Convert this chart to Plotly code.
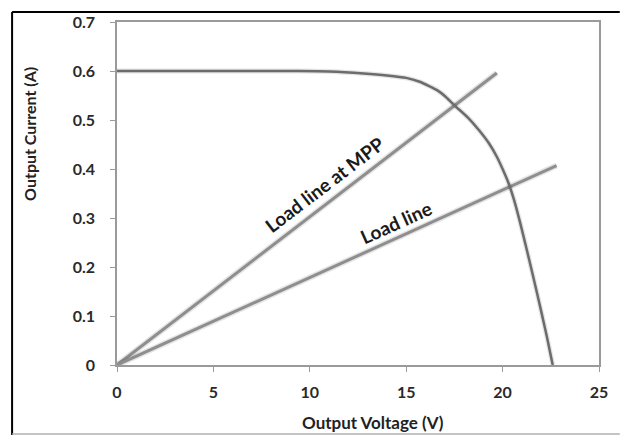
import math
import plotly.graph_objects as go

# I-V curve of the panel
iv_voltage = [0, 2.5, 5, 7.5, 9.4, 11.0, 12.8, 14.0, 15.0, 15.7, 16.2, 16.6, 17.0, 17.5, 18.2, 18.8, 19.3, 19.7, 20.0, 20.3, 20.6, 20.9, 21.2, 21.6, 22.0, 22.3, 22.6]
iv_current = [0.600, 0.600, 0.600, 0.600, 0.600, 0.599, 0.595, 0.591, 0.586, 0.578, 0.569, 0.561, 0.549, 0.530, 0.505, 0.478, 0.452, 0.425, 0.400, 0.372, 0.336, 0.292, 0.244, 0.178, 0.110, 0.057, 0.0]

# Load lines (straight lines through the origin)
mpp_voltage = [0, 19.7]
mpp_current = [0, 0.596]
load_voltage = [0, 22.8]
load_current = [0, 0.407]

x_ticks = [0, 5, 10, 15, 20, 25]
y_ticks = [0, 0.1, 0.2, 0.3, 0.4, 0.5, 0.6, 0.7]

W, H = 620, 435
ML, MR, MT, MB = 117, 16, 22, 70
pw, ph = W - ML - MR, H - MT - MB
XMAX, YMAX = 25, 0.7

def angle(vx, vy):
    return -math.degrees(math.atan2(vy / YMAX * ph, vx / XMAX * pw))

FONT = "Lato"
fig = go.Figure()
line_col = "#8e8e8e"
for vx, vy in [(mpp_voltage, mpp_current), (load_voltage, load_current)]:
    fig.add_trace(go.Scatter(x=vx, y=vy, mode="lines",
                             line=dict(color="rgba(0,0,0,0.10)", width=6),
                             hoverinfo="skip", showlegend=False))
    fig.add_trace(go.Scatter(x=vx, y=vy, mode="lines",
                             line=dict(color=line_col, width=3),
                             showlegend=False))
fig.add_trace(go.Scatter(x=iv_voltage, y=iv_current, mode="lines",
                         line=dict(color="rgba(0,0,0,0.10)", width=5, shape="spline", smoothing=0.6),
                         hoverinfo="skip", showlegend=False))
fig.add_trace(go.Scatter(x=iv_voltage, y=iv_current, mode="lines",
                         line=dict(color="#6c6c6c", width=2.5, shape="spline", smoothing=0.6),
                         showlegend=False))

axis_common = dict(showgrid=False, zeroline=False, showline=True, linecolor="#9a9a9a",
                   linewidth=1.5, mirror=True, ticks="outside", ticklen=5, tickcolor="#9a9a9a",
                   tickfont=dict(family=FONT, size=16, color="#2a2a2a", weight="bold"))
fig.update_xaxes(range=[0, XMAX], tickvals=x_ticks, ticktext=[str(v) for v in x_ticks],
                 ticklabelstandoff=7, **axis_common)
fig.update_yaxes(range=[0, YMAX], tickvals=y_ticks,
                 ticktext=["0" if v == 0 else f"{v:.1f}" for v in y_ticks],
                 ticklabelstandoff=12, **axis_common)

annots = [
    dict(text="<b>Load line at MPP</b>", x=10.75, y=0.368, textangle=angle(mpp_voltage[1], mpp_current[1]),
         font=dict(family=FONT, size=19, color="#1a1a1a")),
    dict(text="<b>Load line</b>", x=14.45, y=0.291, textangle=angle(load_voltage[1], load_current[1]),
         font=dict(family=FONT, size=19, color="#1a1a1a")),
]
for a in annots:
    fig.add_annotation(xref="x", yref="y", showarrow=False, xanchor="center", yanchor="middle", **a)

fig.add_annotation(text="<b>Output Voltage (V)</b>", xref="paper", yref="paper",
                   x=(376 - ML) / pw, y=(H - MB - 422) / ph, showarrow=False,
                   xanchor="center", yanchor="middle", font=dict(family=FONT, size=17, color="#222222"))
fig.add_annotation(text="<b>Output Current (A)</b>", xref="paper", yref="paper",
                   x=(28 - ML) / pw, y=(H - MB - 134) / ph, showarrow=False, textangle=-90,
                   xanchor="center", yanchor="middle", font=dict(family=FONT, size=16, color="#222222"))

# outer frame of the picture
def px(xp): return (xp - ML) / pw
def py(yp): return (H - MB - yp) / ph
fig.add_shape(type="line", xref="paper", yref="paper", x0=px(11), x1=px(W + 5), y0=py(12), y1=py(12),
              line=dict(color="#000000", width=2))
fig.add_shape(type="line", xref="paper", yref="paper", x0=px(11), x1=px(11), y0=py(12), y1=py(H + 5),
              line=dict(color="#000000", width=2))
fig.add_shape(type="line", xref="paper", yref="paper", x0=px(11), x1=px(W + 5), y0=py(434), y1=py(434),
              line=dict(color="#b0b0b0", width=1.5))

fig.update_layout(width=W, height=H, margin=dict(l=ML, r=MR, t=MT, b=MB),
                  paper_bgcolor="white", plot_bgcolor="white", showlegend=False)
fig.write_html("out.html")
